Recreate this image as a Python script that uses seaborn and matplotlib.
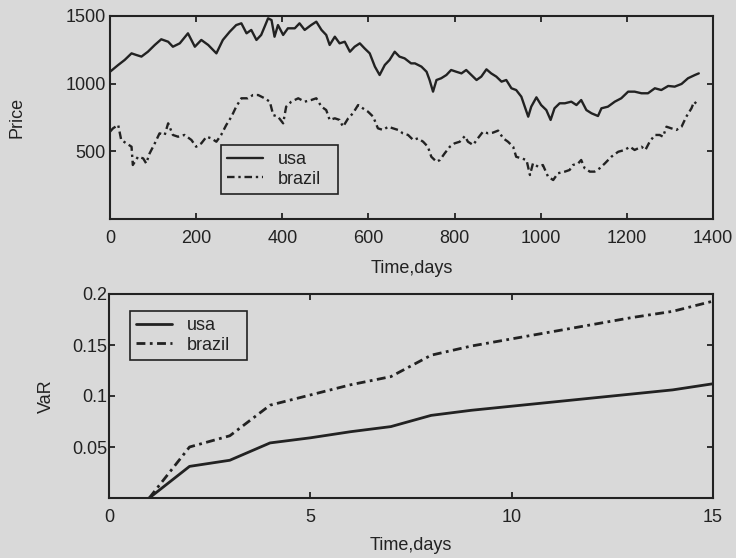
import matplotlib
matplotlib.use("Agg")
import matplotlib.pyplot as plt
import pandas as pd
import seaborn as sns

# Daily closing prices (index levels) for the two markets
usa_days = [0, 19, 34, 50, 61, 73, 88, 104, 119, 135, 146, 162, 181, 197, 212, 228,
            247, 262, 278, 293, 305, 317, 328, 340, 351, 359, 367, 375, 382, 390, 402,
            413, 429, 440, 452, 467, 479, 491, 502, 510, 522, 533, 545, 557, 568, 580,
            591, 603, 615, 626, 638, 649, 661, 672, 684, 699, 708, 723, 735, 742, 750,
            758, 769, 781, 792, 804, 816, 827, 839, 851, 862, 874, 885, 897, 909, 920,
            932, 943, 955, 963, 971, 978, 990, 1001, 1013, 1023, 1032, 1044, 1056,
            1071, 1083, 1094, 1106, 1118, 1133, 1141, 1156, 1172, 1187, 1203, 1218,
            1234, 1249, 1265, 1280, 1296, 1311, 1327, 1342, 1358, 1367]
usa_price = [1088, 1138, 1175, 1224, 1212, 1200, 1236, 1286, 1328, 1310, 1273, 1298,
             1372, 1273, 1323, 1286, 1224, 1323, 1384, 1433, 1446, 1372, 1397, 1323,
             1360, 1421, 1483, 1470, 1347, 1433, 1360, 1409, 1409, 1446, 1397, 1433,
             1458, 1397, 1360, 1286, 1347, 1298, 1310, 1236, 1273, 1298, 1261, 1224,
             1126, 1064, 1138, 1175, 1236, 1200, 1187, 1150, 1150, 1126, 1088, 1027,
             941, 1027, 1040, 1064, 1101, 1088, 1076, 1101, 1064, 1027, 1052, 1106,
             1076, 1052, 1015, 1027, 966, 953, 904, 830, 756, 830, 899, 842, 805, 732,
             818, 855, 855, 867, 842, 879, 805, 781, 761, 818, 830, 867, 892, 941, 941,
             929, 929, 966, 953, 983, 978, 998, 1040, 1064, 1076]

brazil_days = [0, 7, 19, 26, 38, 50, 53, 65, 77, 84, 92, 104, 115, 127, 135, 146, 158,
               173, 189, 200, 212, 224, 235, 247, 258, 270, 282, 293, 305, 320, 332,
               344, 359, 371, 379, 390, 402, 409, 421, 437, 452, 467, 479, 491, 502,
               510, 522, 533, 541, 553, 564, 576, 587, 599, 611, 622, 634, 646, 657,
               669, 680, 692, 704, 715, 727, 738, 746, 758, 766, 777, 789, 800, 812,
               824, 831, 843, 854, 866, 878, 889, 901, 913, 924, 936, 943, 955, 967,
               975, 982, 994, 1005, 1017, 1029, 1040, 1056, 1067, 1075, 1087, 1094,
               1102, 1114, 1125, 1137, 1149, 1164, 1180, 1195, 1207, 1218, 1234, 1243,
               1253, 1265, 1276, 1284, 1292, 1303, 1315, 1327, 1338, 1350, 1356, 1365]
brazil_price = [645, 670, 695, 584, 559, 534, 399, 460, 448, 411, 485, 559, 633, 621,
                707, 621, 608, 621, 584, 534, 559, 608, 596, 571, 621, 695, 756, 830,
                892, 892, 916, 916, 892, 867, 768, 756, 707, 830, 867, 892, 867, 879,
                892, 830, 805, 732, 744, 732, 682, 744, 781, 842, 818, 793, 756, 670,
                658, 682, 670, 658, 633, 621, 584, 596, 571, 534, 460, 423, 436, 485,
                534, 559, 571, 613, 571, 547, 596, 645, 633, 638, 653, 596, 571, 534,
                460, 448, 436, 325, 411, 386, 399, 313, 288, 338, 350, 362, 399, 411,
                436, 375, 350, 350, 375, 411, 460, 497, 510, 534, 510, 534, 510, 571,
                621, 621, 608, 682, 670, 658, 682, 756, 818, 867, 842]

# Value-at-Risk against the holding horizon
var_days = list(range(1, 16))
usa_var = [0.0, 0.031, 0.037, 0.054, 0.059, 0.065, 0.070, 0.081, 0.086, 0.090,
           0.094, 0.098, 0.102, 0.106, 0.112]
brazil_var = [0.0, 0.050, 0.061, 0.091, 0.101, 0.111, 0.119, 0.140, 0.149, 0.156,
              0.163, 0.170, 0.177, 0.183, 0.193]

price_xticks = [0, 200, 400, 600, 800, 1000, 1200, 1400]
price_yticks = [500, 1000, 1500]
var_xticks = [0, 5, 10, 15]
var_yticks = [0.05, 0.1, 0.15, 0.2]
var_ytick_labels = ["0.05", "0.1", "0.15", "0.2"]

sns.set_theme(style="white")
plt.rcParams["font.family"] = ["Liberation Sans", "DejaVu Sans"]

paper = "#d9d9d9"
ink = "#222222"
dashdot = (0, (3.2, 1.6, 1.0, 1.6))

fig = plt.figure(figsize=(7.36, 5.58), dpi=100, facecolor=paper)
ax1 = fig.add_axes([110 / 736, 1 - 219 / 558, 603 / 736, 203 / 558])
ax2 = fig.add_axes([109 / 736, 1 - 498 / 558, 604 / 736, 204 / 558])

usa_df = pd.DataFrame({"day": usa_days, "price": usa_price})
brazil_df = pd.DataFrame({"day": brazil_days, "price": brazil_price})
sns.lineplot(data=usa_df, x="day", y="price", ax=ax1, color=ink, lw=1.7, label="usa")
sns.lineplot(data=brazil_df, x="day", y="price", ax=ax1, color=ink, lw=1.7,
             linestyle=dashdot, label="brazil")

var_df = pd.DataFrame({"day": var_days, "usa": usa_var, "brazil": brazil_var})
sns.lineplot(data=var_df, x="day", y="usa", ax=ax2, color=ink, lw=2.0, label="usa")
sns.lineplot(data=var_df, x="day", y="brazil", ax=ax2, color=ink, lw=2.0,
             linestyle=dashdot, label="brazil")

ax1.set_xlim(0, 1400)
ax1.set_ylim(0, 1500)
ax1.set_xticks(price_xticks)
ax1.set_yticks(price_yticks)
ax1.set_xlabel("Time,days", fontsize=13, color=ink)
ax1.set_ylabel("Price", fontsize=13, color=ink)
ax1.xaxis.set_label_coords(0.5, -0.2)
ax1.yaxis.set_label_coords(-0.14, 0.5)

ax2.set_xlim(0, 15)
ax2.set_ylim(0, 0.2)
ax2.set_xticks(var_xticks)
ax2.set_yticks(var_yticks)
ax2.set_yticklabels(var_ytick_labels)
ax2.set_xlabel("Time,days", fontsize=13, color=ink)
ax2.set_ylabel("VaR", fontsize=13, color=ink)
ax2.xaxis.set_label_coords(0.5, -0.19)
ax2.yaxis.set_label_coords(-0.09, 0.5)

for ax, ypad in ((ax1, 3), (ax2, 1.5)):
    ax.set_facecolor(paper)
    ax.grid(False)
    for sp in ax.spines.values():
        sp.set_visible(True)
        sp.set_color(ink)
        sp.set_linewidth(1.5)
    ax.tick_params(axis="both", direction="in", length=4, width=1.3, colors=ink,
                   labelsize=13, bottom=True, top=True, left=True, right=True)
    ax.tick_params(axis="x", pad=8)
    ax.tick_params(axis="y", pad=ypad)

leg_kw = dict(fontsize=13, frameon=True, fancybox=False, framealpha=1,
              facecolor=paper, edgecolor=ink, handlelength=2.0, handletextpad=0.8,
              borderpad=0.35, labelspacing=0.15, borderaxespad=0, mode="expand")
leg1 = ax1.legend(loc="lower left", bbox_to_anchor=(0.184, 0.123, 0.194, 0.251), **leg_kw)
leg2 = ax2.legend(loc="upper left", bbox_to_anchor=(0.034, 0.665, 0.194, 0.253), **leg_kw)
for leg in (leg1, leg2):
    leg.get_frame().set_linewidth(1.2)
    for t in leg.get_texts():
        t.set_color(ink)

fig.savefig("out.png", dpi=100, facecolor=paper)
